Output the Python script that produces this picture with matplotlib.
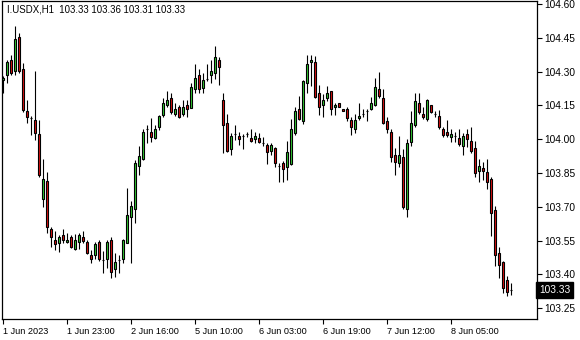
import matplotlib
matplotlib.use('Agg')
import matplotlib.pyplot as plt
import matplotlib.transforms as mtransforms
import numpy as np

# I.USDX H1 candles (bar 0 = first visible bar)
opens = [104.263, 104.284, 104.350, 104.301, 104.452, 104.310, 104.125, 104.093, 104.085, 104.023,
         103.733, 103.813, 103.600, 103.553, 103.541, 103.574, 103.544, 103.565, 103.512, 103.544,
         103.565, 103.544, 103.485, 103.485, 103.544, 103.464, 103.470, 103.551, 103.423, 103.463,
         103.470, 103.541, 103.654, 103.692, 103.881, 103.911, 104.044, 104.031, 104.004, 104.053,
         104.109, 104.150, 104.182, 104.112, 104.142, 104.112, 104.152, 104.140, 104.221, 104.285,
         104.229, 104.268, 104.283, 104.292, 104.352, 104.174, 104.071, 103.958, 104.022, 104.014,
         104.014, 104.022, 104.005, 104.002, 104.005, 103.982, 103.974, 103.949, 103.960, 103.881,
         103.893, 103.878, 103.890, 104.029, 104.133, 104.082, 104.251, 104.341, 104.341, 104.204,
         104.150, 104.181, 104.212, 104.142, 104.159, 104.133, 104.133, 104.085, 104.044, 104.093,
         104.112, 104.125, 104.133, 104.150, 104.221, 104.182, 104.082, 104.032, 103.931, 103.893,
         103.922, 103.692, 103.989, 104.062, 104.159, 104.112, 104.091, 104.152, 104.110, 104.103,
         104.044, 104.032, 104.011, 104.014, 104.004, 103.970, 104.023, 103.993, 103.961, 103.860,
         103.872, 103.854, 103.825, 103.686, 103.494, 103.455, 103.375, 103.330]
highs = [104.280, 104.352, 104.374, 104.502, 104.470, 104.337, 104.174, 104.103, 104.303, 104.085,
         103.911, 103.856, 103.612, 103.594, 103.575, 103.600, 103.583, 103.575, 103.579, 103.585,
         103.593, 103.553, 103.508, 103.545, 103.553, 103.505, 103.553, 103.567, 103.497, 103.486,
         103.556, 103.784, 103.726, 103.908, 103.970, 104.044, 104.062, 104.093, 104.063, 104.107,
         104.182, 104.214, 104.204, 104.159, 104.152, 104.174, 104.174, 104.251, 104.334, 104.310,
         104.292, 104.334, 104.352, 104.414, 104.363, 104.206, 104.112, 104.029, 104.063, 104.032,
         104.023, 104.032, 104.044, 104.032, 104.026, 104.011, 103.985, 103.982, 103.964, 103.893,
         103.903, 103.993, 104.088, 104.142, 104.192, 104.263, 104.374, 104.374, 104.369, 104.241,
         104.201, 104.236, 104.213, 104.162, 104.159, 104.133, 104.142, 104.097, 104.112, 104.162,
         104.133, 104.133, 104.189, 104.270, 104.300, 104.221, 104.100, 104.044, 103.960, 104.014,
         103.955, 103.999, 104.126, 104.204, 104.204, 104.144, 104.177, 104.152, 104.126, 104.130,
         104.056, 104.085, 104.044, 104.032, 104.044, 104.026, 104.044, 104.056, 103.993, 103.914,
         103.900, 103.911, 103.831, 103.704, 103.523, 103.461, 103.393, 103.360]
lows = [104.205, 104.251, 104.285, 104.284, 104.292, 104.122, 104.071, 104.019, 103.997, 103.834,
        103.701, 103.583, 103.520, 103.508, 103.501, 103.541, 103.541, 103.516, 103.508, 103.512,
        103.541, 103.491, 103.449, 103.467, 103.461, 103.405, 103.427, 103.383, 103.390, 103.405,
        103.452, 103.538, 103.452, 103.630, 103.843, 103.908, 103.982, 103.989, 103.999, 104.041,
        104.100, 104.144, 104.112, 104.103, 104.093, 104.104, 104.097, 104.137, 104.204, 104.204,
        104.204, 104.260, 104.251, 104.266, 104.239, 103.940, 103.943, 103.931, 103.997, 103.973,
        103.958, 104.009, 103.988, 103.982, 103.985, 103.970, 103.890, 103.929, 103.875, 103.810,
        103.811, 103.819, 103.886, 104.019, 104.085, 104.067, 104.204, 104.236, 104.183, 104.107,
        104.100, 104.171, 104.109, 104.109, 104.142, 104.124, 104.082, 104.019, 104.029, 104.085,
        104.100, 104.082, 104.130, 104.147, 104.182, 104.067, 104.029, 103.900, 103.841, 103.878,
        103.689, 103.654, 103.970, 104.056, 104.112, 104.091, 104.082, 104.118, 104.100, 104.044,
        104.011, 104.011, 103.988, 103.989, 103.970, 103.930, 103.964, 103.940, 103.831, 103.811,
        103.819, 103.780, 103.571, 103.437, 103.383, 103.319, 103.304, 103.310]
closes = [104.272, 104.341, 104.292, 104.443, 104.301, 104.130, 104.100, 104.093, 104.029, 103.841,
          103.822, 103.612, 103.565, 103.535, 103.565, 103.553, 103.553, 103.520, 103.553, 103.574,
          103.550, 103.494, 103.470, 103.535, 103.470, 103.464, 103.544, 103.412, 103.454, 103.463,
          103.551, 103.662, 103.702, 103.893, 103.924, 104.031, 104.044, 104.011, 104.044, 104.103,
          104.159, 104.174, 104.122, 104.134, 104.100, 104.142, 104.133, 104.230, 104.270, 104.221,
          104.263, 104.268, 104.301, 104.363, 104.319, 104.062, 103.949, 104.014, 104.022, 104.002,
          104.014, 104.022, 103.991, 104.014, 103.988, 103.982, 103.942, 103.973, 103.893, 103.881,
          103.869, 103.942, 104.044, 104.124, 104.091, 104.260, 104.334, 104.352, 104.189, 104.142,
          104.174, 104.204, 104.133, 104.150, 104.142, 104.124, 104.092, 104.052, 104.085, 104.103,
          104.112, 104.125, 104.159, 104.230, 104.192, 104.071, 104.044, 103.922, 103.900, 103.931,
          103.701, 103.982, 104.071, 104.171, 104.122, 104.100, 104.174, 104.122, 104.110, 104.053,
          104.020, 104.020, 104.023, 104.014, 103.979, 104.014, 104.002, 103.949, 103.851, 103.881,
          103.860, 103.811, 103.671, 103.485, 103.441, 103.340, 103.321, 103.330]

price_ticks = [104.60, 104.45, 104.30, 104.15, 104.00, 103.85, 103.70, 103.55, 103.40, 103.25]
time_labels = ['1 Jun 2023', '1 Jun 23:00', '2 Jun 16:00', '5 Jun 10:00',
               '6 Jun 03:00', '6 Jun 19:00', '7 Jun 12:00', '8 Jun 05:00']
time_label_bars = [0, 16, 32, 48, 64, 80, 96, 112]

bull = '#33cc33'
bear = '#dd1111'

plt.rcParams['font.family'] = ['Liberation Sans', 'DejaVu Sans']

fig = plt.figure(figsize=(5.8, 3.4), dpi=100)
ax = fig.add_axes([2 / 580, 21 / 340, 535 / 580, 318 / 340])

o = np.array(opens)
h = np.array(highs)
l = np.array(lows)
c = np.array(closes)
x = np.arange(len(o))

ax.vlines(x, l, h, color='black', linewidth=0.8, zorder=2)
body_low = np.minimum(o, c)
body_h = np.maximum(np.abs(c - o), 0.0006)
cols = np.where(c > o, bull, np.where(c < o, bear, 'black'))
ax.bar(x, body_h, bottom=body_low, width=0.55, color=cols,
       edgecolor='black', linewidth=0.8, zorder=3)

ax.set_xlim(-0.325, 133.4)
ax.set_ylim(103.2025, 104.613)

ax.yaxis.tick_right()
ax.set_yticks(price_ticks)
ax.set_yticklabels(['%.2f' % p for p in price_ticks])
ax.set_xticks(time_label_bars)
ax.set_xticklabels(time_labels, ha='left')
ax.tick_params(axis='both', direction='out', length=3.5, width=0.8, colors='black')
ax.tick_params(axis='y', pad=2, labelsize=7.3)
ax.tick_params(axis='x', pad=2.5, labelsize=6.6)
for s in ax.spines.values():
    s.set_linewidth(0.9)
    s.set_color('black')

fig.text(7 / 580, 1 - 10 / 340, 'I.USDX,H1  103.33 103.36 103.31 103.33',
         fontsize=6.9, va='center', ha='left')

# current price marker on the price scale
trans = mtransforms.blended_transform_factory(ax.transAxes, ax.transData)
ax.text(1.004, closes[-1], '%.2f' % closes[-1], transform=trans, color='white',
        fontsize=7.3, va='center', ha='left', clip_on=False,
        bbox=dict(boxstyle='square,pad=0.3', facecolor='black', edgecolor='black'))

fig.savefig('out.png', dpi=100)
